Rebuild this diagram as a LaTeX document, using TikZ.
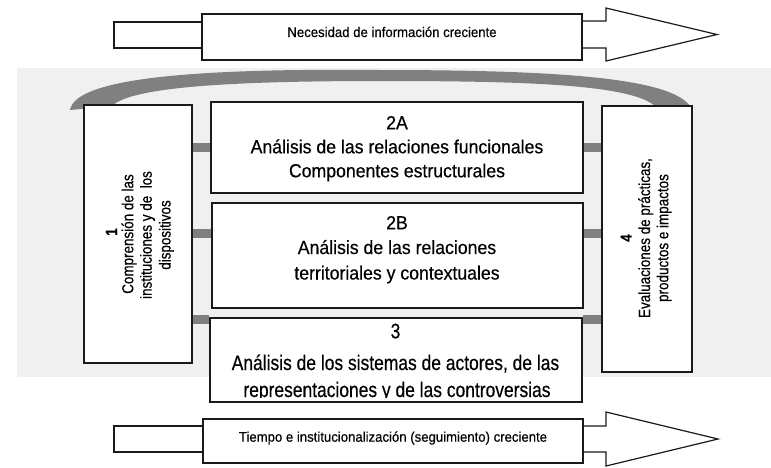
\documentclass[tikz,border=0pt]{standalone}
\usepackage{fontspec}
\setmainfont{Liberation Sans}
\newfontfamily\arrowfont{Liberation Sans}[FakeStretch=0.94,FakeBold=0.4]
\newfontfamily\midfont{Liberation Sans}[FakeStretch=0.93,FakeBold=0.4]
\newfontfamily\thirdfont{Liberation Sans}[FakeStretch=0.83,FakeBold=0.4]
\newfontfamily\sidefont{Liberation Sans}[FakeStretch=0.84,FakeBold=0.4]
\definecolor{bgg}{HTML}{F0F0F0}
\definecolor{barg}{HTML}{808080}
\definecolor{ink}{HTML}{1A1A1A}
\pgfdeclarelayer{bg}
\pgfsetlayers{bg,main}
\begin{document}
\begin{tikzpicture}[x=1pt,y=-1pt,
  box/.style={draw=ink, line width=1.2pt, fill=white, inner sep=0pt},
  outl/.style={draw=ink, line width=1.2pt, fill=white, line join=miter},
  bar/.style={draw=barg, line width=9pt},
  lbl/.style={anchor=base, inner sep=0pt, text=black},
  arrtxt/.style={lbl, font=\arrowfont\fontsize{14}{17}\selectfont},
  midtxt/.style={lbl, font=\midfont\fontsize{19}{22}\selectfont},
  trdtxt/.style={lbl, font=\thirdfont\fontsize{21}{24}\selectfont},
  sidetxt/.style={lbl, rotate=90, font=\sidefont\fontsize{16}{18}\selectfont}]
\useasboundingbox (0,0) rectangle (771,467);

% ---- top arrow ----
\draw[outl] (202,22) -- (114,22) -- (114,48) -- (202,48);
\draw[outl] (582,21) -- (606,21) -- (606,8) -- (717,34.5) -- (606,61) -- (606,48) -- (582,48);
\node[box, minimum width=380pt, minimum height=46pt] (topbox) at (392,37) {};
\node[arrtxt] (toptxt) at (392,37) {Necesidad de información creciente};

% ---- boxes ----
\node[box, minimum width=108pt, minimum height=258pt] (b1) at (138,234) {};
\node[box, minimum width=90pt, minimum height=266pt] (b4) at (647,239) {};
\node[box, minimum width=372pt, minimum height=91pt] (b2a) at (397,147.5) {};
\node[box, minimum width=371pt, minimum height=105pt] (b2b) at (397.5,255.5) {};
\node[box, minimum width=372pt, minimum height=84pt] (b3) at (396,360) {};

% ---- background layer ----
\begin{pgfonlayer}{bg}
  \fill[bgg] (17,68) rectangle (771,377);
  \fill[barg] (70,110) .. controls (75,80) and (180,68) .. (380,70)
     .. controls (560,70) and (670,78) .. (690,106) -- (655,106)
     .. controls (630,84) and (520,81) .. (380,81)
     .. controls (220,81) and (130,88) .. (112,106) -- cycle;
  \draw[bar] (b1.east |- 0,147) -- (b2a.west |- 0,147);
  \draw[bar] (b2a.east |- 0,147) -- (b4.west |- 0,147);
  \draw[bar] (b1.east |- 0,233) -- (b2b.west |- 0,233);
  \draw[bar] (b2b.east |- 0,233) -- (b4.west |- 0,233);
  \draw[bar] (b1.east |- 0,319) -- (b3.west |- 0,319);
  \draw[bar] (b3.east |- 0,319) -- (b4.west |- 0,319);
\end{pgfonlayer}

% ---- texts ----
\node[midtxt] (t2a1) at (397,129.3) {2A};
\node[midtxt] (t2a2) at (397,153.3) {Análisis de las relaciones funcionales};
\node[midtxt] (t2a3) at (397,177.3) {Componentes estructurales};

\node[midtxt] (t2b1) at (397,229.3) {2B};
\node[midtxt] (t2b2) at (397,254) {Análisis de las relaciones};
\node[midtxt] (t2b3) at (397,279.5) {territoriales y contextuales};

\begin{scope}
  \clip (211,319) rectangle (581,397);
  \node[trdtxt] (t31) at (395.5,338.3) {3};
  \node[trdtxt] (t32) at (395.5,370) {Análisis de los sistemas de actores, de las};
  \node[trdtxt] (t33) at (397,397) {representaciones y de las controversias};
\end{scope}

\node[sidetxt] (t11) at (117,232) {\bfseries 1};
\node[sidetxt] (t12) at (133.3,234) {Comprensión de las};
\node[sidetxt] (t13) at (151.7,235) {instituciones y de~ los};
\node[sidetxt] (t14) at (170.5,235) {dispositivos};

\node[sidetxt] (t41) at (631.7,238) {\bfseries 4};
\node[sidetxt] (t42) at (650,238) {Evaluaciones de prácticas,};
\node[sidetxt] (t43) at (668.3,238) {productos e impactos};

% ---- bottom arrow ----
\draw[outl] (203,426) -- (114,426) -- (114,452) -- (203,452);
\draw[outl] (583,426) -- (606,426) -- (606,412) -- (718,439) -- (606,466) -- (606,452) -- (583,452);
\node[box, minimum width=380pt, minimum height=44pt] (botbox) at (393,441) {};
\node[arrtxt] (bottxt) at (393,441.7) {Tiempo e institucionalización (seguimiento) creciente};
\end{tikzpicture}
\end{document}
